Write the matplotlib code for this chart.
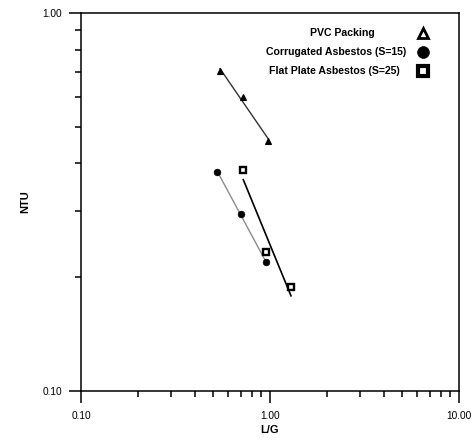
import numpy as np
import matplotlib
matplotlib.use("Agg")
import matplotlib.pyplot as plt
from matplotlib.lines import Line2D
from matplotlib.ticker import FixedLocator, FormatStrFormatter, NullFormatter, LogLocator

plt.rcParams['font.family'] = ['Liberation Sans', 'DejaVu Sans']

# data
series_names = ["PVC Packing", "Corrugated Asbestos (S=15)", "Flat Plate Asbestos (S=25)"]
pvc_lg = [0.544, 0.717, 0.979]
pvc_ntu = [0.702, 0.599, 0.4585]
corr_lg = [0.526, 0.700, 0.952]
corr_ntu = [0.380, 0.294, 0.219]
flat_lg = [0.722, 0.949, 1.291]
flat_ntu = [0.384, 0.233, 0.188]
x_ticks = [0.1, 1.0, 10.0]
y_ticks = [0.1, 1.0]

W, H = 473, 441
fig = plt.figure(figsize=(W / 100, H / 100), dpi=100)
L, R, T, B = 81, 459, 13, 391
ax = fig.add_axes([L / W, 1 - B / H, (R - L) / W, (B - T) / H])
ax.set_xscale('log')
ax.set_yscale('log')
ax.set_xlim(0.1, 10)
ax.set_ylim(0.1, 1)


def fit_line(xs, ys):
    lx, ly = np.log10(xs), np.log10(ys)
    b, a = np.polyfit(lx, ly, 1)
    xe = np.array([lx.min(), lx.max()])
    return 10 ** xe, 10 ** (a + b * xe)


styles = [
    dict(x=pvc_lg, y=pvc_ntu, line=dict(color='0.2', lw=1.0, ls='-'),
         mk=dict(marker='^', ms=4.5, mfc='black', mec='black', mew=0.8)),
    dict(x=corr_lg, y=corr_ntu, line=dict(color='0.55', lw=1.0, ls='-'),
         mk=dict(marker='o', ms=4.8, mfc='black', mec='black', mew=0.5)),
    dict(x=flat_lg, y=flat_ntu, line=dict(color='black', lw=1.2, ls='-'),
         mk=dict(marker='s', ms=5.0, mfc='white', mec='black', mew=1.7)),
]
for s in styles:
    fx, fy = fit_line(s['x'], s['y'])
    ax.plot(fx, fy, zorder=2, **s['line'])
    ax.plot(s['x'], s['y'], ls='none', zorder=3, **s['mk'])

for sp in ax.spines.values():
    sp.set_linewidth(1.1)

ax.xaxis.set_major_locator(FixedLocator(x_ticks))
ax.yaxis.set_major_locator(FixedLocator(y_ticks))
ax.xaxis.set_major_formatter(FormatStrFormatter('%.2f'))
ax.yaxis.set_major_formatter(FormatStrFormatter('%.2f'))
ax.xaxis.set_minor_locator(LogLocator(base=10, subs=np.arange(2, 10)))
ax.yaxis.set_minor_locator(LogLocator(base=10, subs=np.arange(2, 10)))
ax.xaxis.set_minor_formatter(NullFormatter())
ax.yaxis.set_minor_formatter(NullFormatter())
ax.tick_params(which='major', direction='out', length=8.6, width=1.1, labelsize=7.3)
ax.tick_params(axis='x', which='major', pad=6)
ax.tick_params(axis='y', which='major', pad=5)
ax.tick_params(which='minor', direction='out', length=4.3, width=1.1)

ax.set_xlabel('L/G', fontsize=8, fontweight='bold', labelpad=3)
ax.set_ylabel('NTU', fontsize=8, fontweight='bold', labelpad=9)

# legend (manual)
leg_text_cx = [342, 336.5, 334]
leg_y = [33, 52, 71]
leg_mk_x = 423
leg_markers = [
    dict(marker='^', ms=7, mfc='white', mec='black', mew=2.0),
    dict(marker='o', ms=8.5, mfc='black', mec='black', mew=0.5),
    dict(marker='s', ms=7.0, mfc='white', mec='black', mew=3.0),
]
for name, cx, yy, mk in zip(series_names, leg_text_cx, leg_y, leg_markers):
    fig.text(cx / W, 1 - yy / H, name, ha='center', va='center', fontsize=7.6, fontweight='bold')
    fig.add_artist(Line2D([leg_mk_x / W], [1 - yy / H], transform=fig.transFigure, ls='none', **mk))

fig.savefig('out.png', dpi=100)
